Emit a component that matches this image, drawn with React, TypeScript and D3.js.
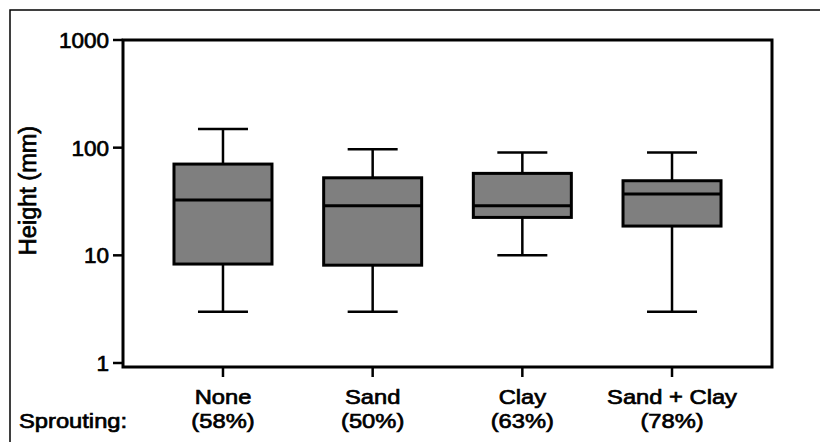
import React from "react";
import * as d3 from "d3";

const categories = ["None", "Sand", "Clay", "Sand + Clay"];
const sprouting = ["(58%)", "(50%)", "(63%)", "(78%)"];
const whiskerLow = [3, 3, 10, 3];
const q1 = [8.3, 8.1, 22.5, 18.7];
const median = [32.6, 28.9, 28.9, 37.1];
const q3 = [70.4, 52.5, 57.7, 49.3];
const whiskerHigh = [149, 96.5, 90.4, 90.4];
const yTicks = [1, 10, 100, 1000];

const W = 820;
const H = 442;
const plotLeft = 123;
const plotRight = 772;
const plotTop = 40;
const y1 = 363;
const axisBottom = 367;

export default function App() {
  const y = d3.scaleLog().domain([1, 1000]).range([y1, plotTop]);
  const x = d3.scalePoint<string>().domain(categories).range([plotLeft, plotRight]).padding(0.668);
  const boxW = 98;
  const capW = 50;
  const font = "'Liberation Sans', Arial, sans-serif";
  const textStyle = { stroke: "#000", strokeWidth: 0.7 } as React.CSSProperties;
  const sx = 1.13;
  return (
    <svg width={W} height={H} style={{ position: "absolute", left: 0, top: 0, background: "#fff" }}>
      <rect x={0} y={0} width={W} height={H} fill="#fff" />
      <rect x={10} y={10} width={1000} height={1000} fill="none" stroke="#000" strokeWidth={1.5} />
      {/* frame */}
      <path
        d={`M${plotLeft},${plotTop}H${plotRight}V${axisBottom}H${plotLeft}Z`}
        fill="none"
        stroke="#000"
        strokeWidth={3}
      />
      {/* y ticks */}
      {yTicks.map((t) => (
        <g key={t}>
          <line x1={plotLeft - 10} x2={plotLeft} y1={y(t)} y2={y(t)} stroke="#000" strokeWidth={2.5} />
          <text
            x={plotLeft - 14}
            y={y(t)}
            dy="0.36em"
            textAnchor="end"
            fontFamily={font}
            fontSize={22.5}
            style={textStyle}
          >
            {t}
          </text>
        </g>
      ))}
      <text
        transform={`translate(36,190.5) rotate(-90)`}
        textAnchor="middle"
        fontFamily={font}
        fontSize={23.5}
        style={textStyle}
      >
        Height (mm)
      </text>
      {/* boxes */}
      {categories.map((c, i) => {
        const cx = x(c) as number;
        return (
          <g key={c}>
            <line x1={cx} x2={cx} y1={y(whiskerHigh[i])} y2={y(q3[i])} stroke="#000" strokeWidth={2.5} />
            <line x1={cx} x2={cx} y1={y(q1[i])} y2={y(whiskerLow[i])} stroke="#000" strokeWidth={2.5} />
            <line x1={cx - capW / 2} x2={cx + capW / 2} y1={y(whiskerHigh[i])} y2={y(whiskerHigh[i])} stroke="#000" strokeWidth={2.5} />
            <line x1={cx - capW / 2} x2={cx + capW / 2} y1={y(whiskerLow[i])} y2={y(whiskerLow[i])} stroke="#000" strokeWidth={2.5} />
            <rect
              x={cx - boxW / 2}
              y={y(q3[i])}
              width={boxW}
              height={y(q1[i]) - y(q3[i])}
              fill="#7f7f7f"
              stroke="#000"
              strokeWidth={3}
            />
            <line x1={cx - boxW / 2} x2={cx + boxW / 2} y1={y(median[i])} y2={y(median[i])} stroke="#000" strokeWidth={3} />
            <line x1={cx} x2={cx} y1={axisBottom} y2={axisBottom + 10} stroke="#000" strokeWidth={2.5} />
            <g transform={`translate(${cx},0) scale(${sx},1)`}>
              <text x={0} y={404} textAnchor="middle" fontFamily={font} fontSize={21} style={textStyle}>
                {c}
              </text>
              <text x={0} y={428} textAnchor="middle" fontFamily={font} fontSize={21} style={textStyle}>
                {sprouting[i]}
              </text>
            </g>
          </g>
        );
      })}
      <g transform={`translate(19,0) scale(${sx},1)`}>
        <text x={0} y={428} fontFamily={font} fontSize={21} style={textStyle}>
          Sprouting:
        </text>
      </g>
    </svg>
  );
}
